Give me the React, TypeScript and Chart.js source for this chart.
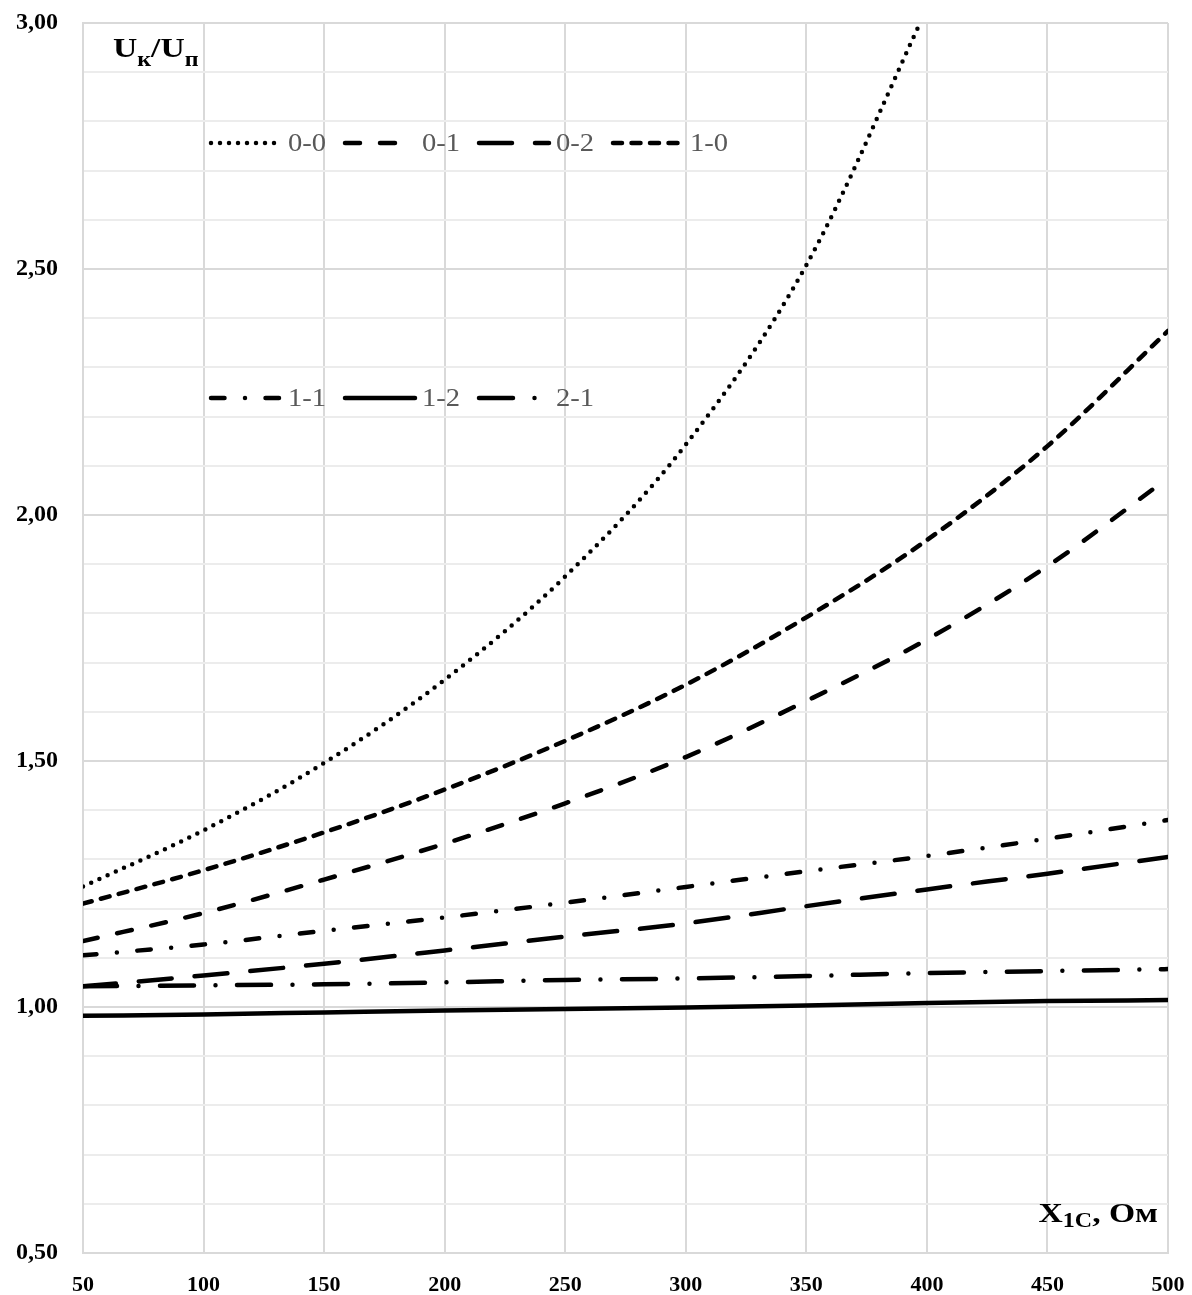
import React, { useEffect, useRef } from 'react';
import { Chart, registerables } from 'chart.js';

Chart.register(...registerables);

// ---- data ----
const X_VALUES = [50, 100, 150, 200, 250, 300, 350, 400, 450, 500];
const SERIES_NAMES = ['0-0', '0-1', '0-2', '1-0', '1-1', '1-2', '2-1'];
const S_0_0 = [1.245, 1.359, 1.496, 1.665, 1.875, 2.143, 2.508, 3.03];
const S_0_1 = [1.134, 1.191, 1.259, 1.332, 1.414, 1.508, 1.622, 1.747, 1.896, 2.075];
const S_0_2 = [1.042, 1.064, 1.088, 1.115, 1.143, 1.170, 1.205, 1.239, 1.271, 1.305];
const S_1_0 = [1.210, 1.278, 1.355, 1.442, 1.541, 1.655, 1.792, 1.949, 2.140, 2.374];
const S_1_1 = [1.105, 1.127, 1.155, 1.182, 1.212, 1.244, 1.276, 1.307, 1.342, 1.380];
const S_1_2 = [0.982, 0.985, 0.989, 0.993, 0.996, 0.999, 1.003, 1.008, 1.012, 1.014];
const S_2_1 = [1.042, 1.044, 1.046, 1.050, 1.055, 1.058, 1.063, 1.069, 1.073, 1.077];
const SERIES_VALUES = [S_0_0, S_0_1, S_0_2, S_1_0, S_1_1, S_1_2, S_2_1];

const Y_MIN = 0.5;
const Y_MAX = 3.0;
const Y_STEP = 0.1;
const X_MIN = 50;
const X_MAX = 500;
const X_STEP = 50;

const Y_TITLE = ['U', 'к', '/', 'U', 'п'];
const X_TITLE = ['X', '1C', ', Ом'];

const LEGEND_ROW_1 = ['0-0', '0-1', '0-2', '1-0'];
const LEGEND_ROW_2 = ['1-1', '1-2', '2-1'];

// ---- styles ----
const DASHES: Record<string, number[]> = {
  '0-0': [0, 9],
  '0-1': [15, 20],
  '0-2': [33, 23],
  '1-0': [9, 9.5],
  '1-1': [13.5, 20.5, 0, 20.5],
  '1-2': [],
  '2-1': [34, 21.5, 0, 21.5],
};
const LINE_W = 4.5;
const SERIF = '"Liberation Serif", "Times New Roman", serif';

const isMajor = (v: number) => Math.abs(v * 2 - Math.round(v * 2)) < 1e-6;

// draws a run of [text, isSub] parts, horizontally stretched by sx
function drawTitle(
  ctx: CanvasRenderingContext2D,
  parts: { t: string; sub: boolean }[],
  x: number,
  baseline: number,
  subDrop: number,
  alignRight: boolean,
  sx: number
) {
  const big = `bold 28px ${SERIF}`;
  const small = `bold 20px ${SERIF}`;
  let total = 0;
  parts.forEach((p) => {
    ctx.font = p.sub ? small : big;
    total += ctx.measureText(p.t).width;
  });
  ctx.save();
  const startX = alignRight ? x - total * sx : x;
  ctx.translate(startX, 0);
  ctx.scale(sx, 1);
  let cx = 0;
  parts.forEach((p) => {
    ctx.font = p.sub ? small : big;
    ctx.fillText(p.t, cx, p.sub ? baseline + subDrop : baseline);
    cx += ctx.measureText(p.t).width;
  });
  ctx.restore();
}

const overlayPlugin = {
  id: 'overlay',
  afterDatasetsDraw(chart: any) {
    const ctx: CanvasRenderingContext2D = chart.ctx;
    ctx.save();
    // legend
    const rows = [
      { items: LEGEND_ROW_1, y: 143 },
      { items: LEGEND_ROW_2, y: 398 },
    ];
    rows.forEach((row) => {
      row.items.forEach((name, i) => {
        const x0 = 211 + i * 134;
        ctx.beginPath();
        ctx.setLineDash(DASHES[name]);
        ctx.lineDashOffset = 0;
        ctx.lineCap = 'round';
        ctx.lineWidth = LINE_W;
        ctx.strokeStyle = '#000';
        ctx.moveTo(x0, row.y);
        ctx.lineTo(x0 + 70, row.y);
        ctx.stroke();
        ctx.setLineDash([]);
        ctx.save();
        ctx.font = `26px ${SERIF}`;
        ctx.fillStyle = '#595959';
        ctx.textBaseline = 'middle';
        ctx.textAlign = 'left';
        ctx.translate(x0 + 77, 0);
        ctx.scale(1.1, 1);
        ctx.fillText(name, 0, row.y + 1);
        ctx.restore();
      });
    });

    ctx.fillStyle = '#000';
    ctx.textBaseline = 'alphabetic';
    ctx.textAlign = 'left';
    // y title: Uк/Uп
    drawTitle(
      ctx,
      Y_TITLE.map((t, i) => ({ t, sub: i === 1 || i === 4 })),
      113,
      57,
      9,
      false,
      1.2
    );
    // x title: X1C, Ом (right aligned)
    drawTitle(
      ctx,
      X_TITLE.map((t, i) => ({ t, sub: i === 1 })),
      1158,
      1222,
      5,
      true,
      1.2
    );
    ctx.restore();
  },
};

export default function App() {
  const ref = useRef<HTMLCanvasElement | null>(null);

  useEffect(() => {
    if (!ref.current) return;
    const datasets = SERIES_NAMES.map((name, i) => ({
      label: name,
      data: SERIES_VALUES[i].map((v, j) => ({ x: X_VALUES[j], y: v })),
      borderColor: '#000',
      backgroundColor: '#000',
      borderWidth: LINE_W,
      borderDash: DASHES[name],
      borderCapStyle: 'round' as const,
      borderJoinStyle: 'round' as const,
      pointRadius: 0,
      pointHoverRadius: 0,
      cubicInterpolationMode: 'monotone' as const,
      fill: false,
    }));

    const chart = new Chart(ref.current, {
      type: 'line',
      data: { datasets },
      options: {
        responsive: false,
        animation: false,
        devicePixelRatio: 1,
        layout: { padding: { top: 23, right: 24, left: 0, bottom: 0 } },
        plugins: {
          legend: { display: false },
          tooltip: { enabled: false },
          title: { display: false },
        },
        scales: {
          x: {
            type: 'linear',
            min: X_MIN,
            max: X_MAX,
            afterFit: (s: any) => {
              s.height = 42;
              s.paddingLeft = 0;
              s.paddingRight = 0;
            },
            ticks: {
              stepSize: X_STEP,
              color: '#000',
              padding: 19,
              maxRotation: 0,
              autoSkip: false,
              font: { family: SERIF, size: 22, weight: 'bold' },
            },
            grid: { color: '#d9d9d9', lineWidth: 2, drawTicks: false },
            border: { color: '#d9d9d9', width: 2 },
          },
          y: {
            type: 'linear',
            min: Y_MIN,
            max: Y_MAX,
            afterFit: (s: any) => {
              s.width = 83;
              s.paddingTop = 0;
              s.paddingBottom = 0;
            },
            ticks: {
              stepSize: Y_STEP,
              autoSkip: false,
              color: '#000',
              padding: 25,
              font: { family: SERIF, size: 24, weight: 'bold' },
              callback: (v: any) => {
                const n = Number(v);
                return isMajor(n) ? n.toFixed(2).replace('.', ',') : '';
              },
            },
            grid: {
              drawTicks: false,
              lineWidth: 2,
              color: (c: any) => (c.tick && isMajor(c.tick.value) ? '#d9d9d9' : '#ececec'),
            },
            border: { color: '#d9d9d9', width: 2 },
          },
        },
      },
      plugins: [overlayPlugin],
    });
    return () => chart.destroy();
  }, []);

  return (
    <div style={{ position: 'absolute', left: 0, top: 0, width: 1192, height: 1295, background: '#fff' }}>
      <canvas ref={ref} width={1192} height={1295} style={{ display: 'block' }} />
    </div>
  );
}
